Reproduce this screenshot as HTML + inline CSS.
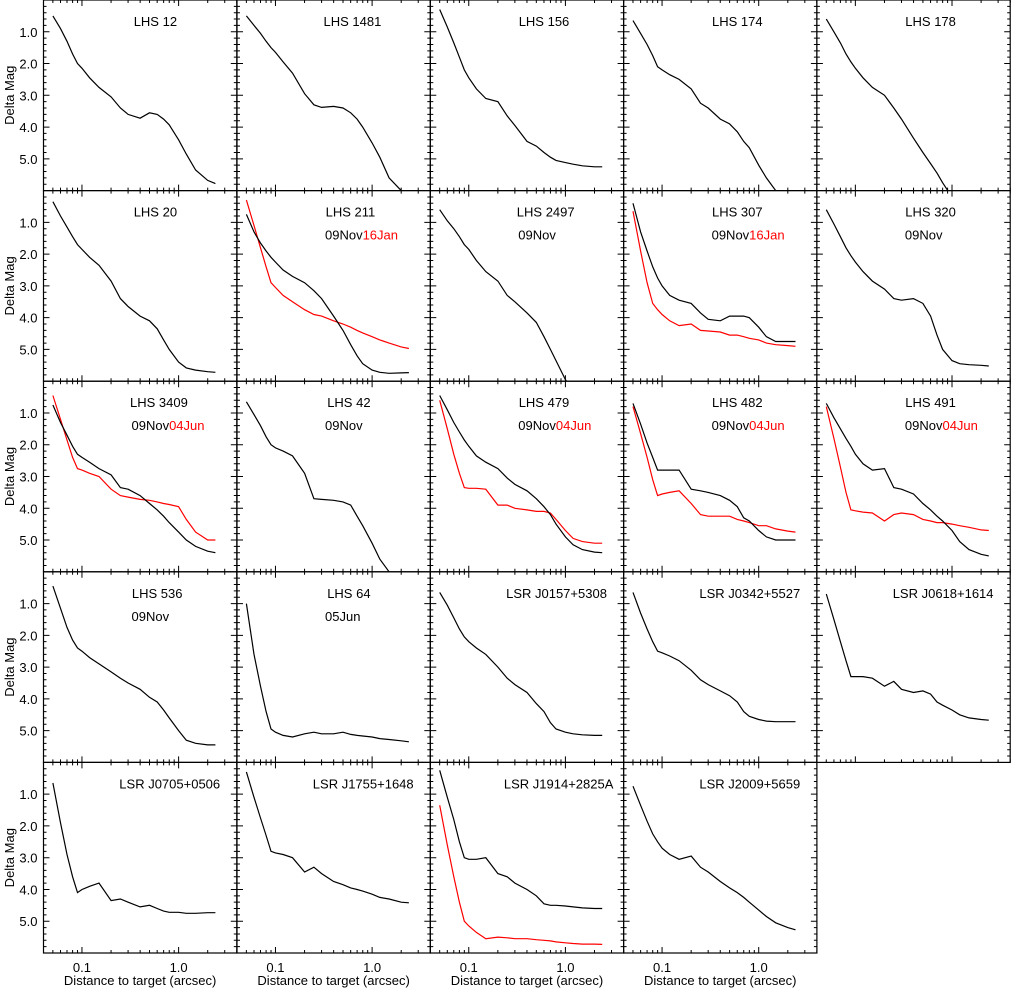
<!DOCTYPE html>
<html><head><meta charset="utf-8"><style>
html,body{margin:0;padding:0;background:#fff;}
svg text{font-family:"Liberation Sans",sans-serif;font-size:13px;fill:#000;}
</style></head><body>
<svg id="chart" width="1011" height="988" viewBox="0 0 1011 988" xmlns="http://www.w3.org/2000/svg"></svg>
<script>
// shared separation grid (arcsec)
const sepGrid = [0.05,0.06,0.07,0.08,0.09,0.1,0.12,0.15,0.2,0.25,0.3,0.4,0.5,0.6,0.7,0.8,1.0,1.2,1.5,2.0,2.4];
const xTickLabels = ["0.1","1.0"];
const xTickValues = [0.1,1.0];
const yTickValues = [1,2,3,4,5];
const yTickLabels = ["1.0","2.0","3.0","4.0","5.0"];
const targetNames = ["LHS 12","LHS 1481","LHS 156","LHS 174","LHS 178","LHS 20","LHS 211","LHS 2497","LHS 307","LHS 320","LHS 3409","LHS 42","LHS 479","LHS 482","LHS 491","LHS 536","LHS 64","LSR J0157+5308","LSR J0342+5527","LSR J0618+1614","LSR J0705+0506","LSR J1755+1648","LSR J1914+2825A","LSR J2009+5659"];
const epochBlack = ["","","","","","","09Nov","09Nov","09Nov","09Nov","09Nov","09Nov","09Nov","09Nov","09Nov","09Nov","05Jun","","","","","","",""];
const epochRed = ["","","","","","","16Jan","","16Jan","","04Jun","","04Jun","04Jun","04Jun","","","","","","","","",""];
// black curves (delta mag at sepGrid)
const magLHS12 = [0.5,0.9,1.3,1.7,2.0,2.15,2.45,2.75,3.05,3.4,3.6,3.72,3.55,3.6,3.75,3.93,4.4,4.85,5.35,5.68,5.78];
const magLHS1481 = [0.5,0.8,1.05,1.3,1.5,1.65,1.95,2.3,2.95,3.3,3.38,3.35,3.4,3.55,3.75,4.0,4.5,4.95,5.6,6.0,6.2];
const magLHS156 = [0.3,0.85,1.35,1.8,2.2,2.45,2.8,3.1,3.2,3.65,3.95,4.45,4.6,4.8,4.95,5.05,5.12,5.17,5.22,5.25,5.25];
const magLHS174 = [0.65,1.05,1.4,1.75,2.1,2.2,2.35,2.5,2.8,3.25,3.4,3.75,3.9,4.15,4.45,4.65,5.2,5.6,6.0,6.3,6.4];
const magLHS178 = [0.6,1.0,1.35,1.7,1.95,2.15,2.45,2.75,3.0,3.4,3.75,4.35,4.8,5.15,5.45,5.75,6.2,6.4,6.5,6.5,6.5];
const magLHS20 = [0.35,0.8,1.15,1.45,1.7,1.85,2.1,2.35,2.85,3.4,3.65,3.95,4.1,4.35,4.7,5.0,5.4,5.58,5.65,5.7,5.72];
const magLHS211 = [0.75,1.3,1.65,1.9,2.1,2.25,2.5,2.7,2.9,3.15,3.4,3.95,4.4,4.85,5.2,5.45,5.65,5.72,5.75,5.74,5.73];
const magLHS2497 = [0.6,0.95,1.2,1.45,1.7,1.85,2.2,2.55,2.85,3.3,3.5,3.85,4.15,4.6,5.0,5.35,5.95,6.3,6.4,6.4,6.4];
const magLHS307 = [0.4,1.3,1.9,2.4,2.75,3.0,3.3,3.45,3.55,3.85,4.05,4.1,3.95,3.95,3.95,4.0,4.3,4.6,4.75,4.75,4.75];
const magLHS320 = [0.6,1.05,1.45,1.8,2.05,2.25,2.55,2.85,3.1,3.4,3.45,3.4,3.55,3.95,4.55,5.0,5.35,5.45,5.48,5.5,5.52];
const magLHS3409 = [0.75,1.3,1.7,2.05,2.3,2.4,2.55,2.75,2.95,3.35,3.4,3.6,3.85,4.05,4.25,4.45,4.75,5.0,5.2,5.35,5.4];
const magLHS42 = [0.65,1.05,1.4,1.75,2.0,2.1,2.2,2.35,2.9,3.7,3.72,3.75,3.8,3.9,4.25,4.55,5.1,5.6,6.0,6.3,6.4];
const magLHS479 = [0.45,0.9,1.3,1.6,1.85,2.05,2.35,2.55,2.75,3.05,3.25,3.45,3.7,3.95,4.2,4.5,4.9,5.15,5.3,5.38,5.4];
const magLHS482 = [0.7,1.35,1.95,2.4,2.8,2.8,2.8,2.8,3.4,3.45,3.5,3.6,3.75,3.95,4.3,4.4,4.7,4.9,5.0,5.0,5.0];
const magLHS491 = [0.7,1.15,1.5,1.8,2.05,2.3,2.6,2.8,2.75,3.35,3.4,3.55,3.85,4.05,4.25,4.4,4.7,5.05,5.3,5.45,5.5];
const magLHS536 = [0.45,1.15,1.75,2.15,2.4,2.5,2.7,2.9,3.15,3.35,3.5,3.7,3.95,4.1,4.35,4.6,5.0,5.3,5.4,5.45,5.45];
const magLHS64 = [1.0,2.6,3.6,4.4,4.95,5.05,5.15,5.2,5.1,5.05,5.1,5.1,5.05,5.12,5.15,5.17,5.2,5.25,5.28,5.32,5.35];
const magJ0157 = [0.65,1.05,1.45,1.8,2.05,2.2,2.4,2.6,3.0,3.35,3.55,3.8,4.15,4.4,4.75,4.95,5.05,5.1,5.13,5.15,5.15];
const magJ0342 = [0.65,1.3,1.8,2.2,2.5,2.55,2.65,2.8,3.1,3.4,3.55,3.75,3.9,4.1,4.4,4.55,4.65,4.7,4.72,4.72,4.72];
const magJ0618 = [0.7,1.5,2.2,2.8,3.3,3.3,3.3,3.35,3.6,3.45,3.7,3.8,3.75,3.85,4.1,4.2,4.35,4.5,4.6,4.65,4.67];
const magJ0705 = [0.65,1.9,2.9,3.6,4.1,4.0,3.9,3.8,4.35,4.3,4.4,4.55,4.5,4.6,4.68,4.72,4.72,4.75,4.75,4.73,4.73];
const magJ1755 = [0.3,1.1,1.75,2.3,2.8,2.85,2.9,3.0,3.45,3.3,3.5,3.75,3.85,3.95,4.0,4.05,4.15,4.25,4.3,4.4,4.42];
const magJ1914 = [0.25,1.1,1.8,2.5,3.0,3.05,3.05,3.0,3.5,3.6,3.8,4.0,4.2,4.45,4.5,4.5,4.52,4.55,4.58,4.6,4.6];
const magJ2009 = [0.75,1.35,1.85,2.25,2.5,2.7,2.9,3.05,2.95,3.3,3.45,3.75,3.95,4.1,4.25,4.4,4.65,4.85,5.05,5.2,5.27];
// red (second epoch) curves
const redLHS211 = [0.3,1.1,1.8,2.4,2.9,3.05,3.3,3.5,3.75,3.9,3.95,4.1,4.2,4.3,4.4,4.48,4.6,4.7,4.8,4.92,4.97];
const redLHS307 = [0.65,1.9,2.9,3.55,3.75,3.9,4.1,4.25,4.2,4.4,4.42,4.45,4.55,4.55,4.6,4.65,4.7,4.8,4.85,4.88,4.9];
const redLHS3409 = [0.45,1.2,1.85,2.4,2.75,2.8,2.9,3.0,3.4,3.6,3.65,3.72,3.75,3.8,3.85,3.88,3.95,4.35,4.75,5.0,5.0];
const redLHS479 = [0.6,1.5,2.3,2.9,3.35,3.37,3.37,3.4,3.9,3.9,4.0,4.05,4.1,4.1,4.15,4.35,4.7,4.95,5.05,5.1,5.1];
const redLHS482 = [0.8,1.65,2.4,3.1,3.6,3.55,3.5,3.45,3.85,4.2,4.25,4.25,4.25,4.35,4.4,4.45,4.55,4.55,4.65,4.72,4.75];
const redLHS491 = [0.8,1.8,2.7,3.5,4.05,4.08,4.12,4.15,4.4,4.2,4.15,4.2,4.35,4.4,4.45,4.45,4.5,4.55,4.6,4.68,4.7];
const redJ1914 = [1.35,2.6,3.6,4.4,5.0,5.15,5.35,5.55,5.5,5.52,5.55,5.55,5.58,5.6,5.62,5.65,5.68,5.7,5.72,5.72,5.73];

const blackSeries = [magLHS12,magLHS1481,magLHS156,magLHS174,magLHS178,magLHS20,magLHS211,magLHS2497,magLHS307,magLHS320,magLHS3409,magLHS42,magLHS479,magLHS482,magLHS491,magLHS536,magLHS64,magJ0157,magJ0342,magJ0618,magJ0705,magJ1755,magJ1914,magJ2009];
const redSeries = [null,null,null,null,null,null,redLHS211,null,redLHS307,null,redLHS3409,null,redLHS479,redLHS482,redLHS491,null,null,null,null,null,null,null,redJ1914,null];

const NS="http://www.w3.org/2000/svg";
const svg=document.getElementById('chart');
const colL=[43.5,237,430.3,623.6,816.9], PW=193.3, PH=190.6;
const X0=Math.log10(0.04), X1=Math.log10(4), Y0=0, Y1=6;
function mk(tag,attrs,parent){const e=document.createElementNS(NS,tag);for(const k in attrs)e.setAttribute(k,attrs[k]);(parent||svg).appendChild(e);return e;}
function xs(v,left){return left+(Math.log10(v)-X0)/(X1-X0)*PW;}
function ys(v,top){return top+(v-Y0)/(Y1-Y0)*PH;}
const defs=mk('defs',{});

for(let i=0;i<24;i++){
  const r=Math.floor(i/5), c=i%5, left=colL[c], top=r*PH;
  const g=mk('g',{});
  
  
  const cp=mk('clipPath',{id:'cp'+i},defs);
  mk('rect',{x:left,y:top,width:PW,height:PH},cp);
  let d='';
  const lows=[0.04,0.05,0.06,0.07,0.08,0.09,0.2,0.3,0.4,0.5,0.6,0.7,0.8,0.9,2,3,4];
  lows.forEach(v=>{const x=xs(v,left);d+=`M${x},${top+PH}v-3M${x},${top}v3`;});
  xTickValues.forEach(v=>{const x=xs(v,left);d+=`M${x},${top+PH}v-6M${x},${top}v6`;});
  for(let m=0.2;m<6;m+=0.2){const y=ys(m,top);const maj=Math.abs(m-Math.round(m))<0.01;const L=maj?6:3;d+=`M${left},${y}h${L}M${left+PW},${y}h${-L}`;}
  const tk=mk('path',{d:d,stroke:'#000','stroke-width':1,fill:'none'},g);
  
  
  const fr=mk('rect',{x:left,y:top,width:PW,height:PH,fill:'none',stroke:'#000','stroke-width':1.2},g);
  
  
  function line(arr,color,name){
    let p='';arr.forEach((m,k)=>{p+=(k?'L':'M')+xs(sepGrid[k],left).toFixed(1)+','+ys(m,top).toFixed(1);});
    const e=mk('path',{d:p,stroke:color,'stroke-width':1.2,fill:'none','clip-path':`url(#cp${i})`},g);
    
    
  }
  if(redSeries[i]) line(redSeries[i],'#ff0000','contrast-curve-epoch2');
  line(blackSeries[i],'#000','contrast-curve');
  const t=mk('text',{x:left+101,y:top+26},g);
  t.textContent=targetNames[i];
  
  
  const w=t.getComputedTextLength();t.setAttribute('x',(left+101-0.25*w).toFixed(1));
  if(epochBlack[i]){
    const e=mk('text',{x:left+88,y:top+49},g);
    
    
    const s1=mk('tspan',{},e);s1.textContent=epochBlack[i];
    if(epochRed[i]){const s2=mk('tspan',{fill:'#ff0000',style:'fill:#ff0000'},e);s2.textContent=epochRed[i];}
  }
  if(c===0){
    yTickValues.forEach((v,k)=>{const tl=mk('text',{x:left-6,y:ys(v,top)+5,'text-anchor':'end'});tl.textContent=yTickLabels[k];
      
      });
    const yt=mk('text',{x:0,y:0,'text-anchor':'middle',transform:`translate(14,${top+PH/2}) rotate(-90)`});
    yt.textContent='Delta Mag';
    
    
  }
  if(r===4){
    xTickValues.forEach((v,k)=>{const tl=mk('text',{x:xs(v,left),y:top+PH+19,'text-anchor':'middle'});tl.textContent=xTickLabels[k];
      
      });
    const xt=mk('text',{x:left+PW/2,y:top+PH+32,'text-anchor':'middle'});
    xt.textContent='Distance to target (arcsec)';
    
    
  }
}
</script>
</body></html>
